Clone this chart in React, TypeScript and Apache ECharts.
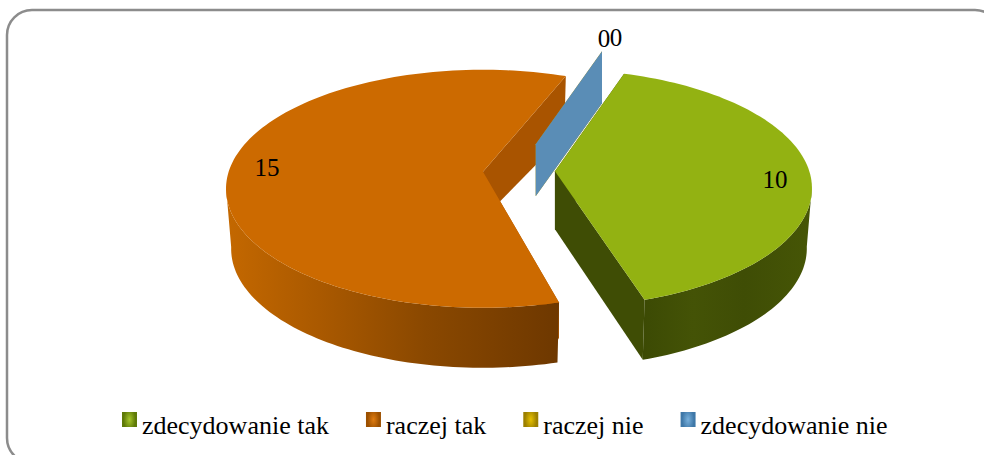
import React, { useEffect, useRef } from "react";
import * as echarts from "echarts";

const categories = ["zdecydowanie tak", "raczej tak", "raczej nie", "zdecydowanie nie"];
const values = [10, 15, 0, 0];
const tickLabels = ["10", "15", "0", "0"];

const FONT = "'Liberation Serif', serif";
const PIE = { x: 519, y: 172, rx: 257, ry: 119, drop: 17, start: -74.4, taper: 0.98 };

const STYLES = [
  { z: 5, explode: 36, scale: 1, nudge: 0, depthA: 58, depthB: 60,
    top: "#93b212", wall: "#3f4d05",
    rim: ["#3c4a04", "#445306", "#3f4d05", "#465606"], label: [775, 179] },
  { z: 2, explode: 36, scale: 1, nudge: 3.2, depthA: 47, depthB: 37,
    top: "#cc6a00", wall: "#a95400",
    rim: ["#c46800", "#a85800", "#8a4800", "#6e3800"], label: [267, 167] },
  { z: 3, explode: 62, scale: 0.96, nudge: 0, depthA: 52, depthB: 52,
    top: "#d0a800", wall: "#b89500",
    rim: ["#b89500", "#b89500", "#b89500", "#b89500"], label: [604, 38] },
  { z: 4, explode: 62, scale: 0.96, nudge: 0, depthA: 52, depthB: 52,
    top: "#5b8db8", wall: "#5a8db6",
    rim: ["#5a8db6", "#5a8db6", "#5a8db6", "#5a8db6"], label: [616, 37] },
];

const LEGEND_COLORS = [
  ["#a6c62a", "#5f7a08"],
  ["#e07c10", "#9c5000"],
  ["#e6c000", "#9c8000"],
  ["#78b0dc", "#3f78a8"],
];

const rad = (d: number) => (d * Math.PI) / 180;

function sliceAngles(index: number) {
  const total = values.reduce((a, b) => a + b, 0);
  let acc = 0;
  for (let i = 0; i < index; i++) acc += values[i];
  const a0 = PIE.start + (acc / total) * 360;
  const a1 = a0 + (values[index] / total) * 360;
  return [a0, a1];
}

function renderSlice(index: number) {
  return () => {
    const s = STYLES[index];
    const [raw0, raw1] = sliceAngles(index);
    const a0 = raw0 + s.nudge;
    const a1 = raw1 + s.nudge;
    const mid = (a0 + a1) / 2;
    const ax = PIE.x + s.explode * Math.cos(rad(mid));
    const ay = PIE.y + (s.explode * Math.sin(rad(mid)) * PIE.ry) / PIE.rx;
    const cy = ay + PIE.drop;
    const rim = (deg: number): [number, number] => [
      ax + s.scale * PIE.rx * Math.cos(rad(deg)),
      cy + s.scale * PIE.ry * Math.sin(rad(deg)),
    ];
    const arc: [number, number][] = [];
    const steps = Math.max(1, Math.round(Math.abs(a1 - a0) / 1.5));
    for (let i = 0; i <= steps; i++) arc.push(rim(a0 + ((a1 - a0) * i) / steps));
    const children: any[] = [];
    const first = arc[0];
    const last = arc[arc.length - 1];
    children.push({
      type: "polygon",
      shape: {
        points: [[ax, ay], first, [first[0], first[1] + s.depthB], [ax, ay + s.depthA]],
      },
      style: { fill: s.wall },
    });
    if (values[index] > 0) {
      children.push({
        type: "polygon",
        shape: {
          points: [[ax, ay], last, [ax + (last[0] - ax) * PIE.taper, last[1] + 60], [ax, ay + s.depthA]],
        },
        style: { fill: s.wall },
      });
      const front = arc.filter((p, i) => {
        const deg = a0 + ((a1 - a0) * i) / steps;
        return Math.sin(rad(deg)) >= -0.02;
      });
      const pts = [
        ...front,
        ...front.slice().reverse().map((p) => [ax + (p[0] - ax) * PIE.taper, p[1] + 60]),
      ];
      children.push({
        type: "polygon",
        shape: { points: pts },
        style: {
          fill: new echarts.graphic.LinearGradient(0, 0, 1, 0, [
            { offset: 0, color: s.rim[0] },
            { offset: 0.3, color: s.rim[1] },
            { offset: 0.6, color: s.rim[2] },
            { offset: 1, color: s.rim[3] },
          ]),
        },
      });
      children.push({
        type: "polygon",
        shape: { points: [[ax, ay], ...arc] },
        style: { fill: s.top },
      });
    }
    children.push({
      type: "text",
      style: {
        text: tickLabels[index],
        x: s.label[0],
        y: s.label[1],
        fill: "#000",
        fontFamily: FONT,
        fontSize: 25,
        align: "center",
        verticalAlign: "middle",
      },
    });
    return { type: "group", children };
  };
}

export default function App() {
  const ref = useRef<HTMLDivElement>(null);
  useEffect(() => {
    document.body.style.margin = "0";
    const chart = echarts.init(ref.current!, undefined, { renderer: "svg" });
    chart.setOption({
      animation: false,
      backgroundColor: "#fff",
      graphic: [
        {
          type: "rect",
          z: 0,
          shape: { x: 7, y: 10, width: 993, height: 453, r: 25 },
          style: { fill: "#fff", stroke: "#8c8c8c", lineWidth: 2.5 },
        },
      ],
      legend: {
        left: 117,
        top: 407,
        itemWidth: 15,
        itemHeight: 27,
        itemGap: 37,
        icon: "path://M0 0H15V15H0Z M0 27L0 27",
        textStyle: { fontFamily: FONT, fontSize: 26, color: "#000" },
        data: categories.map((name, i) => ({
          name,
          itemStyle: {
            color: new echarts.graphic.RadialGradient(0.5, 0.28, 0.4, [
              { offset: 0, color: LEGEND_COLORS[i][0] },
              { offset: 1, color: LEGEND_COLORS[i][1] },
            ]),
          },
        })),
      },
      series: categories.map((name, i) => ({
        type: "custom",
        name,
        coordinateSystem: "none",
        z: STYLES[i].z,
        data: [[values[i]]],
        renderItem: renderSlice(i),
        silent: true,
      })),
    });
    return () => chart.dispose();
  }, []);
  return <div ref={ref} style={{ width: 984, height: 455 }} />;
}
